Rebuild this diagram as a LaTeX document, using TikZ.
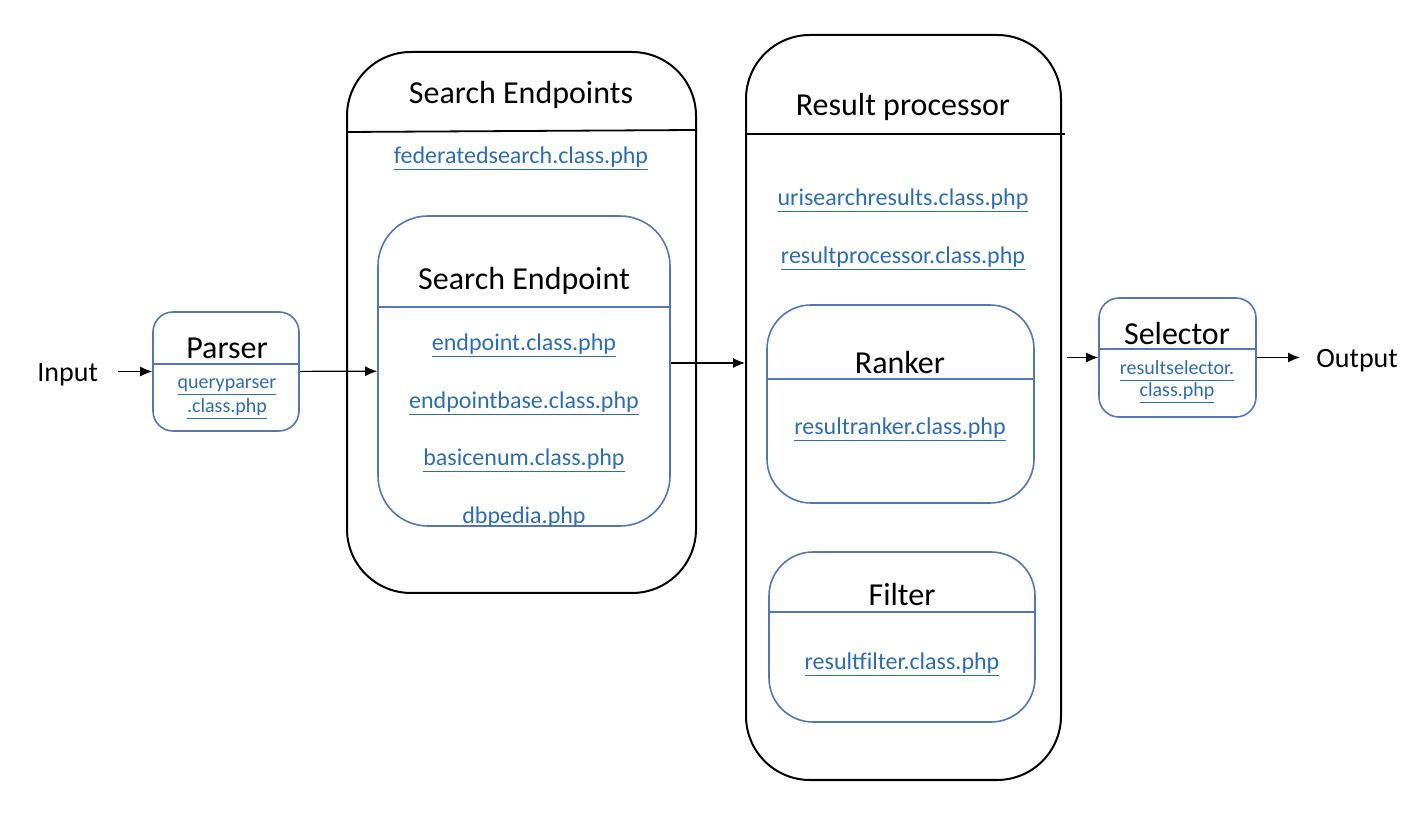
\documentclass[tikz,border=0pt]{standalone}
\usepackage{fontspec}
\setmainfont{Carlito}
\usetikzlibrary{arrows.meta}

\definecolor{boxblue}{RGB}{84,118,178}
\definecolor{linkblue}{RGB}{46,108,178}
\newcommand{\lnk}[1]{\setbox0=\hbox{#1}\rlap{\rule[-2.8pt]{\wd0}{0.5pt}}\box0}

\tikzset{
  outerbox/.style={draw=black,line width=1pt,rounded corners=32pt,inner sep=0pt},
  innerbox/.style={draw=boxblue,line width=0.8pt,inner sep=0pt},
  divider/.style={line width=0.6pt},
  title/.style={anchor=base,inner sep=0pt,font=\fontsize{16}{19}\selectfont},
  label/.style={anchor=base,inner sep=0pt,font=\fontsize{14}{17}\selectfont},
  link/.style={anchor=base,inner sep=0pt,text=linkblue,font=\fontsize{12}{14}\selectfont},
  smalllink/.style={link,font=\fontsize{10}{12}\selectfont},
  arr/.style={-{Latex[length=6pt,width=5pt]},line width=0.6pt}
}

\begin{document}
\begin{tikzpicture}[x=0.5pt,y=-0.5pt]
      \useasboundingbox (0,0) rectangle (1424,822);
      % boxes
      \node[innerbox,rounded corners=10pt,minimum width=73pt,minimum height=59.5pt] (parser) at (226,371.5) {};
      \node[outerbox,minimum width=174.5pt,minimum height=270.5pt] (endpoints) at (521.5,322.5) {};
      \node[innerbox,rounded corners=25pt,minimum width=146pt,minimum height=155pt] (endpoint) at (524,371) {};
      \node[outerbox,minimum width=157.5pt,minimum height=372.5pt] (processor) at (903.5,407.5) {};
      \node[innerbox,rounded corners=22pt,minimum width=133.5pt,minimum height=99pt] (ranker) at (900.5,404) {};
      \node[innerbox,rounded corners=22pt,minimum width=133pt,minimum height=85pt] (filter) at (902,637) {};
      \node[innerbox,rounded corners=10pt,minimum width=78.5pt,minimum height=59.5pt] (selector) at (1177.5,357.5) {};
      % dividers
      \draw[divider,boxblue] (parser.west |- 0,364) -- (parser.east |- 0,364);
      \draw[divider,black,line width=0.9pt] (endpoints.west |- 0,132) -- (endpoints.east |- 0,130);
      \draw[divider,boxblue] (endpoint.west |- 0,307) -- (endpoint.east |- 0,307);
      \draw[divider,black,line width=0.9pt] (processor.west |- 0,134) -- ([xshift=1.5pt]processor.east |- 0,134);
      \draw[divider,boxblue] (ranker.west |- 0,379) -- (ranker.east |- 0,379);
      \draw[divider,boxblue] (filter.west |- 0,612) -- (filter.east |- 0,612);
      \draw[divider,boxblue] (selector.west |- 0,349) -- (selector.east |- 0,349);
      % texts
      \node[label,anchor=base west] (input) at (37,382) {Input};
      \node[label,anchor=base west] (output) at (1316,368) {Output};
      \node[title] (parsertitle) at (227,359) {Parser};
      \node[smalllink] (parserfile) at (227,389) {\lnk{queryparser}};
      \node[smalllink] (parserclass) at (227,413) {\lnk{.class.php}};
      \node[title] (endpointstitle) at (521,104) {Search Endpoints};
      \node[link] (federated) at (521,164) {\lnk{federatedsearch.class.php}};
      \node[title] (endpointtitle) at (524,290) {Search Endpoint};
      \node[link] (endpointfile) at (524,351) {\lnk{endpoint.class.php}};
      \node[link] (endpointbase) at (524,409) {\lnk{endpointbase.class.php}};
      \node[link] (basicenum) at (524,466) {\lnk{basicenum.class.php}};
      \node[link] (dbpedia) at (524,524) {dbpedia.php};
      \node[title] (processortitle) at (903,116) {Result processor};
      \node[link] (urisearch) at (903,206) {\lnk{urisearchresults.class.php}};
      \node[link] (processorfile) at (903,264) {\lnk{resultprocessor.class.php}};
      \node[title] (rankertitle) at (900,374) {Ranker};
      \node[link] (rankerfile) at (900,435) {\lnk{resultranker.class.php}};
      \node[title] (filtertitle) at (902,606) {Filter};
      \node[link] (filterfile) at (902,670) {\lnk{resultfilter.class.php}};
      \node[title] (selectortitle) at (1177,345) {Selector};
      \node[smalllink] (selectorfile) at (1177,375) {\lnk{resultselector.}};
      \node[smalllink] (selectorclass) at (1177,397) {\lnk{class.php}};
      % arrows
      \draw[arr,shorten <=10pt] (input.east |- parser) -- (parser);
      \draw[arr] (parser) -- (endpoint);
      \draw[arr] (endpoint.east |- 0,363) -- (processor.west |- 0,363);
      \draw[arr,shorten <=2.5pt] (processor.east |- selector) -- (selector);
      \draw[arr,shorten >=8pt] (selector) -- (output.west |- selector);
    \end{tikzpicture}
\end{document}
